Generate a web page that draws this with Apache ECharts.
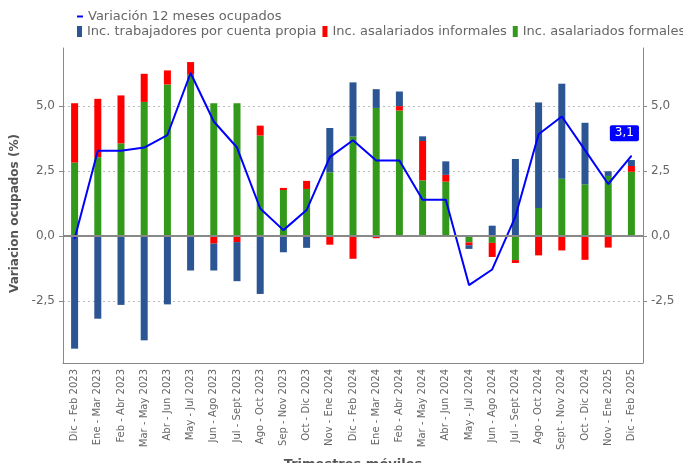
<!DOCTYPE html>
<html>
<head>
<meta charset="utf-8">
<script src="https://cdn.jsdelivr.net/npm/echarts@6/dist/echarts.min.js"></script>
<style>
  html, body { margin: 0; padding: 0; background: #fff; }
  #chart { width: 683px; height: 463px; }
</style>
</head>
<body>
<div id="chart"></div>
<script>
var categories = [
  "Dic - Feb 2023", "Ene - Mar 2023", "Feb - Abr 2023", "Mar - May 2023", "Abr - Jun 2023",
  "May - Jul 2023", "Jun - Ago 2023", "Jul - Sept 2023", "Ago - Oct 2023", "Sep - Nov 2023",
  "Oct - Dic 2023", "Nov - Ene 2024", "Dic - Feb 2024", "Ene - Mar 2024", "Feb - Abr 2024",
  "Mar - May 2024", "Abr - Jun 2024", "May - Jul 2024", "Jun - Ago 2024", "Jul - Sept 2024",
  "Ago - Oct 2024", "Sept - Nov 2024", "Oct - Dic 2024", "Nov - Ene 2025", "Dic - Feb 2025"
];

// contribuciones (puntos porcentuales)
var formales = [2.82, 3.03, 3.56, 5.15, 5.82, 6.2, 5.10, 5.10, 3.86, 1.77, 1.81, 2.45, 3.82,
  4.92, 4.82, 2.14, 2.09, -0.24, -0.26, -0.92, 1.08, 2.20, 1.99, 2.31, 2.47];
var informales = [2.28, 2.24, 1.84, 1.08, 0.54, 0.48, -0.29, -0.23, 0.38, 0.08, 0.31, -0.33, -0.87,
  -0.08, 0.17, 1.51, 0.26, -0.11, -0.54, -0.11, -0.74, -0.55, -0.91, -0.44, 0.22];
var cuentaPropia = [-4.32, -3.17, -2.64, -4.0, -2.62, -1.32, -1.03, -1.50, -2.22, -0.62, -0.45, 1.70, 2.08,
  0.72, 0.56, 0.18, 0.52, -0.14, 0.40, 2.96, 4.05, 3.65, 2.36, 0.18, 0.23];

// variacion 12 meses del total de ocupados
var variacion = [-0.1, 3.28, 3.28, 3.40, 3.88, 6.26, 4.40, 3.40, 1.06, 0.23, 1.0, 3.03, 3.68,
  2.90, 2.90, 1.40, 1.40, -1.88, -1.28, 0.75, 3.91, 4.59, 3.3, 2.0, 3.08];

var yTicks = [-2.5, 0, 2.5, 5];

function fmt(v) {
  return Number(v).toFixed(1).replace(".", ",");
}

var lineData = variacion.map(function (v, i) {
  if (i === variacion.length - 1) {
    return { value: v, label: { show: true } };
  }
  return v;
});

var yAxisBase = {
  type: "value",
  min: -4.87,
  max: 7.22,
  axisLine: { show: true, lineStyle: { color: "#888", width: 1 } },
  axisTick: { show: true, length: 4, lineStyle: { color: "#888" }, customValues: yTicks },
  axisLabel: { color: "#666", fontSize: 12, margin: 8, formatter: fmt, customValues: yTicks },
  splitLine: { show: false }
};

var myChart = echarts.init(document.getElementById("chart"));
myChart.setOption({
  animation: false,
  textStyle: { fontFamily: "DejaVu Sans" },
  legend: [
    {
      left: 72,
      top: 5,
      icon: "rect",
      itemWidth: 6,
      itemHeight: 2,
      textStyle: { color: "#666", fontSize: 13 },
      data: ["Variación 12 meses ocupados"]
    },
    {
      left: 72,
      top: 20,
      width: 700,
      icon: "rect",
      itemWidth: 5,
      itemHeight: 11,
      itemGap: 6,
      textStyle: { color: "#666", fontSize: 13 },
      data: ["Inc. trabajadores por cuenta propia", "Inc. asalariados informales", "Inc. asalariados formales"]
    }
  ],
  grid: { left: 63, right: 40, top: 48, bottom: 100, outerBoundsMode: "none", containLabel: false },
  xAxis: {
    type: "category",
    data: categories,
    name: "Trimestres móviles",
    nameLocation: "middle",
    nameGap: 88,
    nameTextStyle: { color: "#555", fontSize: 13, fontWeight: "bold" },
    axisLine: { onZero: false, lineStyle: { color: "#888" } },
    axisTick: { alignWithLabel: true, length: 4, lineStyle: { color: "#888" } },
    axisLabel: { rotate: 90, interval: 0, color: "#666", fontSize: 10, margin: 6 }
  },
  yAxis: [
    Object.assign({}, yAxisBase, {
      position: "left",
      name: "Variacion ocupados (%)",
      nameLocation: "middle",
      nameGap: 25,
      nameTextStyle: { color: "#555", fontSize: 12, fontWeight: "bold", padding: [0, 16, 0, 0] },
      splitLine: { show: true, lineStyle: { color: "#bbb", type: [2, 3] } }
    }),
    Object.assign({}, yAxisBase, {
      position: "right",
      name: "Variacion ocupados (%)",
      nameLocation: "middle",
      nameGap: 56,
      nameTextStyle: { color: "#555", fontSize: 12, fontWeight: "bold" }
    })
  ],
  series: [
    {
      name: "Inc. asalariados formales",
      type: "bar",
      stack: "inc",
      barWidth: 7,
      itemStyle: { color: "#33991a" },
      data: formales
    },
    {
      name: "Inc. asalariados informales",
      type: "bar",
      stack: "inc",
      barWidth: 7,
      itemStyle: { color: "#ff0000" },
      data: informales
    },
    {
      name: "Inc. trabajadores por cuenta propia",
      type: "bar",
      stack: "inc",
      barWidth: 7,
      itemStyle: { color: "#2c5593" },
      data: cuentaPropia
    },
    {
      name: "Variación 12 meses ocupados",
      type: "line",
      symbol: "circle",
      symbolSize: 1,
      showSymbol: true,
      itemStyle: { color: "#0000ff" },
      lineStyle: { color: "#0000ff", width: 2 },
      label: {
        position: "top",
        offset: [-7, -9],
        color: "#fff",
        fontSize: 12,
        backgroundColor: "#0000ff",
        padding: [2, 5],
        borderRadius: 2,
        formatter: function (p) { return fmt(p.value); }
      },
      markLine: {
        silent: true,
        symbol: "none",
        label: { show: false },
        lineStyle: { color: "#888", type: "solid", width: 2 },
        data: [{ yAxis: 0 }]
      },
      data: lineData
    }
  ]
});
</script>
</body>
</html>
